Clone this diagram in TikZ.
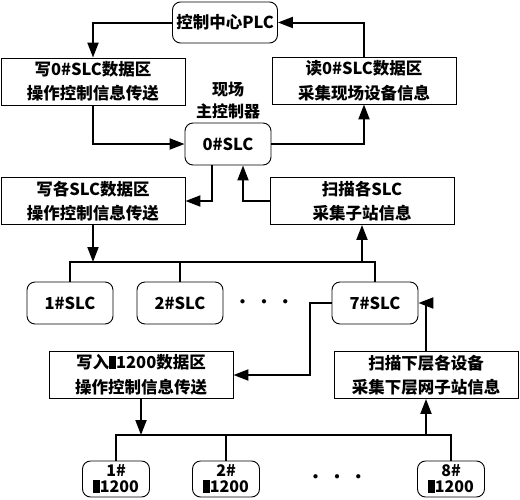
\documentclass[tikz,border=0pt]{standalone}
\usepackage{fontspec}
\setmainfont{Noto Sans CJK SC}
\usepackage{tikz}
\usetikzlibrary{calc}
\usetikzlibrary{arrows.meta}
\newcommand{\blk}{\rule{0.42em}{0.78em}}

\begin{document}
\begin{tikzpicture}[x=1pt,y=-1pt,font=\fontsize{16.5}{24.5}\selectfont\bfseries,
	box/.style={draw,line width=0.9pt,minimum width=184pt,minimum height=47pt,align=center,inner sep=0pt},
	rbox/.style={draw,line width=0.9pt,rounded corners=8pt,minimum width=86pt,minimum height=42pt,align=center,inner sep=0pt},
	sbox/.style={draw,line width=0.9pt,rounded corners=8pt,minimum width=67pt,minimum height=36pt,align=center,inner sep=0pt,font=\fontsize{16}{16}\selectfont\bfseries},
	dotrow/.style={font=\fontsize{11}{11}\selectfont,inner sep=0pt},
	link/.style={line width=2pt,-{Triangle[length=15pt,width=11pt]}},
	bus/.style={line width=2pt}]
	\useasboundingbox (0,0) rectangle (520,499);
	% top level
	\node[rbox,minimum width=105pt,minimum height=41pt] (plc) at (225,22.5) {控制中心PLC};
	\node[box] (w0) at (93,81.5) {写0\#SLC数据区\\操作控制信息传送};
	\node[box] (r0) at (364,80.5) {读0\#SLC数据区\\采集现场设备信息};
	\node[align=center,font=\fontsize{16}{22}\selectfont\bfseries] (lbl) at (228,101) {现场\\主控制器};
	\node[rbox] (slc0) at (228,144) {0\#SLC};
	\draw[link] (plc.west) -| (w0.north);
	\draw[link] (r0.north) |- (plc.east);
	\draw[link] (w0.south) |- (slc0.west);
	\draw[link] (slc0.east) -| (r0.south);
	% second level
	\node[box] (w1) at (93,201) {写各SLC数据区\\操作控制信息传送};
	\node[box] (s1) at (362,201) {扫描各SLC\\采集子站信息};
	\draw[link] ([xshift=-16pt]slc0.south) |- (w1.east);
	\draw[link] (s1.west) -| ([xshift=15pt]slc0.south);
	\node[rbox] (slc1) at (70,303) {1\#SLC};
	\node[rbox] (slc2) at (180,303) {2\#SLC};
	\node[rbox] (slc7) at (375,303) {7\#SLC};
	\node[dotrow] (dots1) at (264,302) {$\bullet\hspace{13.5pt}\bullet\hspace{13.5pt}\bullet$};
	\coordinate (bus1) at (0,262);
	\draw[bus] (slc1.north) |- (bus1 -| slc7.north) -- (slc7.north);
	\draw[bus] (slc2.north) -- (slc2.north |- bus1);
	\draw[link] (w1.south) -- (w1.south |- bus1);
	\draw[link] (s1.south |- bus1) -- (s1.south);
	% third level
	\node[box] (w2) at (141,375) {写入\blk1200数据区\\操作控制信息传送};
	\node[box] (s2) at (426,375) {扫描下层各设备\\采集下层网子站信息};
	\coordinate (p1) at (310,303);
	\draw[link] (slc7.west) -- (p1) |- (w2.east);
	\draw[link] (s2.north) |- (slc7.east);
	\node[sbox] (m1) at (116,479) {1\#\\\blk1200};
	\node[sbox] (m2) at (226,479) {2\#\\\blk1200};
	\node[sbox] (m8) at (451,479) {8\#\\\blk1200};
	\node[dotrow] (dots2) at (337,477) {$\bullet\hspace{13.5pt}\bullet\hspace{13.5pt}\bullet$};
	\coordinate (bus2) at (0,435);
	\draw[bus] (m1.north) |- (bus2 -| m8.north) -- (m8.north);
	\draw[bus] (m2.north) -- (m2.north |- bus2);
	\draw[link] (w2.south) -- (w2.south |- bus2);
	\draw[link] (s2.south |- bus2) -- (s2.south);
\end{tikzpicture}
\end{document}
